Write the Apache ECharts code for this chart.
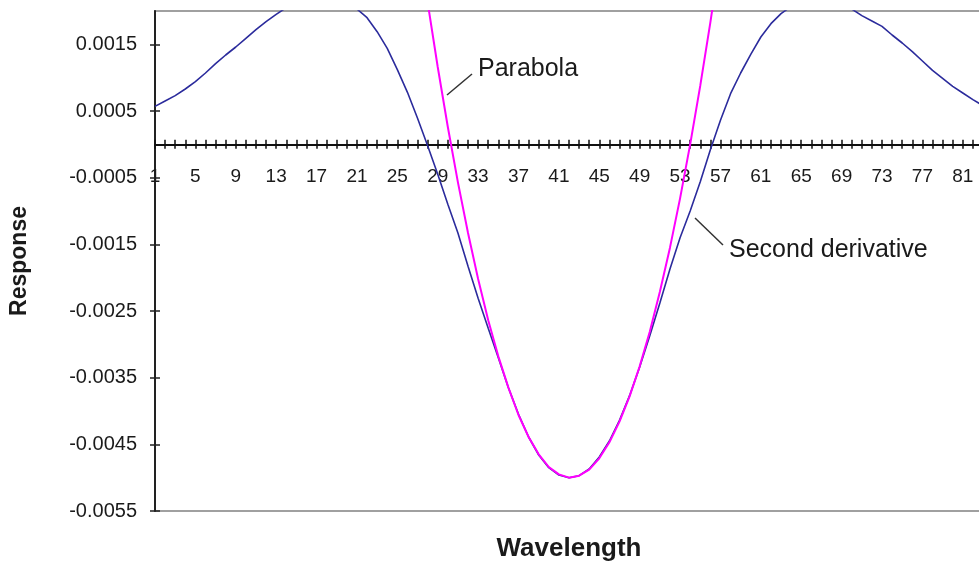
<!DOCTYPE html>
<html>
<head>
<meta charset="utf-8">
<title>Second derivative vs parabola</title>
<script src="https://cdn.jsdelivr.net/npm/echarts@6/dist/echarts.min.js"></script>
<style>
  html, body { margin: 0; padding: 0; background: #fff; }
  #chart { width: 979px; height: 573px; }
</style>
</head>
<body>
<div id="chart"></div>
<script>
// wavelength index 1..83
const categories = Array.from({ length: 83 }, (_, i) => String(i + 1));

const secondDerivative = [
  0.00057, 0.00065, 0.00073, 0.00083, 0.00094, 0.00107, 0.00121, 0.00134, 0.00146, 0.00159,
  0.00172, 0.00184, 0.00195, 0.00205, 0.00213, 0.00219, 0.00222, 0.00222, 0.00218, 0.00211,
  0.00203, 0.00190, 0.00169, 0.00144, 0.00112, 0.00078, 0.00039, -0.00002, -0.00045, -0.00090,
  -0.00133, -0.00183, -0.00231, -0.00276, -0.00320, -0.00365, -0.00405, -0.00439, -0.00466, -0.00485,
  -0.00496, -0.00500, -0.00497, -0.00487, -0.00469, -0.00445, -0.00414, -0.00377, -0.00334, -0.00287,
  -0.00238, -0.00187, -0.00140, -0.00100, -0.00056, -0.00008, 0.00036, 0.00076, 0.00107, 0.00135,
  0.00161, 0.00181, 0.00196, 0.00207, 0.00215, 0.00220, 0.00222, 0.00220, 0.00213, 0.00203,
  0.00193, 0.00185, 0.00177, 0.00164, 0.00152, 0.00139, 0.00125, 0.00111, 0.00099, 0.00087,
  0.00077, 0.00067, 0.00058
];

// parabola only matters where it is inside the plot (about 26..58)
const parabola = [
  null, null, null, null, null, null, null, null, null, null,
  null, null, null, null, null, null, null, null, null, null,
  null, null, null, null, null, 0.00428, 0.00317, 0.00213, 0.00116, 0.00026,
  -0.00057, -0.00133, -0.00202, -0.00264, -0.00318, -0.00365, -0.00406, -0.00439, -0.00465, -0.00484,
  -0.00495, -0.00500, -0.00497, -0.00488, -0.00471, -0.00447, -0.00416, -0.00378, -0.00333, -0.00281,
  -0.00221, -0.00155, -0.00081, 0.00000, 0.00088, 0.00183, 0.00285, 0.00394, null, null,
  null, null, null, null, null, null, null, null, null, null,
  null, null, null, null, null, null, null, null, null, null,
  null, null, null
];

const yTicks = [-0.0055, -0.0045, -0.0035, -0.0025, -0.0015, -0.0005, 0.0005, 0.0015];
const yMin = -0.0055;
const yMax = 0.002;

const FONT = 'Arial, "Liberation Sans", sans-serif';
const TXT = '#1a1a1a';

// plot box (Excel plot area)
const G = { left: 155, right: -4, top: 11, bottom: 62 };
const plotH = 573 - G.top - G.bottom;
// x axis sits on y = 0, so pull it up from the bottom edge
const zeroOffset = -plotH * (0 - yMin) / (yMax - yMin);
// Excel "cross" tick marks: half above/left, half below/right
const XT = 4.5;
const YT = 5;

const chart = echarts.init(document.getElementById('chart'));

const option = {
  animation: false,
  backgroundColor: '#fff',
  grid: {
    left: G.left, right: G.right, top: G.top, bottom: G.bottom,
    containLabel: false,
    outerBoundsMode: 'none',
    show: true,
    borderColor: '#a0a0a0',
    borderWidth: 2,
    backgroundColor: 'transparent'
  },
  xAxis: [{
    type: 'category',
    data: categories,
    boundaryGap: false,
    position: 'bottom',
    offset: zeroOffset,
    axisLine: { onZero: false, lineStyle: { color: '#111', width: 2 } },
    axisTick: { show: false },
    axisLabel: {
      interval: 3,
      margin: 23,
      color: TXT,
      fontSize: 19,
      fontFamily: FONT
    },
    splitLine: { show: false },
    name: 'Wavelength',
    nameLocation: 'middle',
    nameGap: 391,
    nameTextStyle: { color: TXT, fontSize: 26, fontWeight: 'bold', fontFamily: FONT }
  }, {
    // tick-only copy, shifted up so its ticks straddle the axis line
    type: 'category',
    data: categories,
    boundaryGap: false,
    position: 'bottom',
    offset: zeroOffset - XT,
    axisLine: { show: false, onZero: false },
    axisTick: { interval: 0, length: 2 * XT, lineStyle: { color: '#111', width: 1.5 } },
    axisLabel: { show: false },
    splitLine: { show: false }
  }],
  yAxis: [{
    type: 'value',
    min: yMin,
    max: yMax,
    interval: 0.001,
    position: 'left',
    axisLine: { show: true, lineStyle: { color: '#222', width: 2 } },
    axisTick: { show: false },
    axisLabel: {
      customValues: yTicks,
      margin: 18,
      color: TXT,
      fontSize: 20,
      fontFamily: FONT,
      formatter: v => v.toFixed(4)
    },
    splitLine: { show: false },
    name: 'Response',
    nameLocation: 'middle',
    nameGap: 124,
    nameRotate: 90,
    nameTextStyle: { color: TXT, fontSize: 23, fontWeight: 'bold', fontFamily: FONT }
  }, {
    type: 'value',
    min: yMin,
    max: yMax,
    interval: 0.001,
    position: 'left',
    offset: -YT,
    axisLine: { show: false },
    axisTick: { show: true, length: 2 * YT, customValues: yTicks, lineStyle: { color: '#222', width: 1.5 } },
    axisLabel: { show: false },
    splitLine: { show: false }
  }],
  series: [{
    name: 'Second derivative',
    type: 'line',
    xAxisIndex: 0,
    yAxisIndex: 0,
    data: secondDerivative,
    symbol: 'none',
    smooth: false,
    lineStyle: { color: '#2b2b9c', width: 1.6 },
    z: 3
  }, {
    name: 'Parabola',
    type: 'line',
    xAxisIndex: 0,
    yAxisIndex: 0,
    data: parabola,
    symbol: 'none',
    smooth: false,
    connectNulls: false,
    lineStyle: { color: '#ff00ff', width: 2 },
    z: 4
  }],
  graphic: [
    // leader lines + labels, like the Excel callouts
    { type: 'line', shape: { x1: 447, y1: 95, x2: 472, y2: 74 }, style: { stroke: '#333', lineWidth: 1.5 }, z: 10 },
    { type: 'text', x: 478, y: 69, style: { text: 'Parabola', font: '25px ' + FONT, fill: TXT, verticalAlign: 'middle' }, z: 10 },
    { type: 'line', shape: { x1: 695, y1: 218, x2: 723, y2: 245 }, style: { stroke: '#333', lineWidth: 1.5 }, z: 10 },
    { type: 'text', x: 729, y: 250, style: { text: 'Second derivative', font: '25px ' + FONT, fill: TXT, verticalAlign: 'middle' }, z: 10 }
  ]
};

chart.setOption(option);
</script>
</body>
</html>
